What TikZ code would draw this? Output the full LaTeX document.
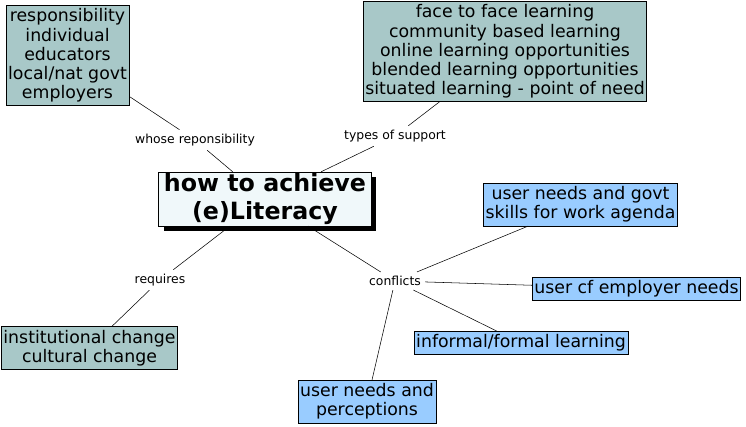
\documentclass[tikz,border=0pt]{standalone}
\usepackage{fontspec}
\setmainfont{DejaVu Sans}
\definecolor{mmteal}{RGB}{168,200,200}
\definecolor{mmblue}{RGB}{153,204,255}
\definecolor{mmpale}{RGB}{240,248,250}
\usetikzlibrary{shadows}

\begin{document}
\begin{tikzpicture}[
  x=0.75pt,y=-0.75pt,
  topic/.style={draw,fill=mmteal,align=center,inner xsep=1.5pt,inner ysep=2.5pt,
    font=\fontsize{13}{14.4}\selectfont},
  issue/.style={draw,fill=mmblue,align=center,inner xsep=1.5pt,inner ysep=2.5pt,
    font=\fontsize{13}{14.4}\selectfont},
  hub/.style={draw,fill=mmpale,align=center,inner xsep=4pt,inner ysep=1pt,
    font=\fontsize{17.8}{21}\selectfont\bfseries,
    drop shadow={shadow xshift=3.75pt,shadow yshift=-3.75pt,fill=black,opacity=1}},
  rel/.style={font=\fontsize{9.3}{11}\selectfont,inner sep=3pt},
  link/.style={thin}
]
  \useasboundingbox (0,0) rectangle (746,427);
  % Centre
  \node[hub] (hub) at (265,199) {how to achieve\\(e)Literacy};
  % Responsibility
  \node[topic] (resp) at (67.5,55.5) {responsibility\\individual\\educators\\local/nat govt\\employers};
  \node[rel] (whose) at (195,140) {whose reponsibility};
  % Support
  \node[topic] (support) at (505,51.5) {face to face learning\\community based learning\\online learning opportunities\\blended learning opportunities\\situated learning - point of need};
  \node[rel] (types) at (395,136) {types of support};
  % Requires
  \node[rel] (requires) at (160,280) {requires};
  \node[topic] (change) at (89.5,348) {institutional change\\cultural change};
  % Conflicts
  \node[rel] (conflicts) at (395,281) {conflicts};
  \node[issue] (govt) at (580.5,204.5) {user needs and govt\\skills for work agenda};
  \node[issue] (employer) at (636.5,288.5) {user cf employer needs};
  \node[issue] (informal) at (521,343) {informal/formal learning};
  \node[issue] (percept) at (367,401.5) {user needs and\\perceptions};
  % Links
  \draw[link] (resp) -- (whose) -- (hub);
  \draw[link] (support) -- (types) -- (hub);
  \draw[link] (hub) -- (requires) -- (change);
  \draw[link] (hub) -- (conflicts);
  \draw[link] (conflicts) -- (govt);
  \draw[link] (conflicts) -- (employer);
  \draw[link] (conflicts) -- (informal);
  \draw[link] (conflicts) -- (percept);
\end{tikzpicture}
\end{document}
